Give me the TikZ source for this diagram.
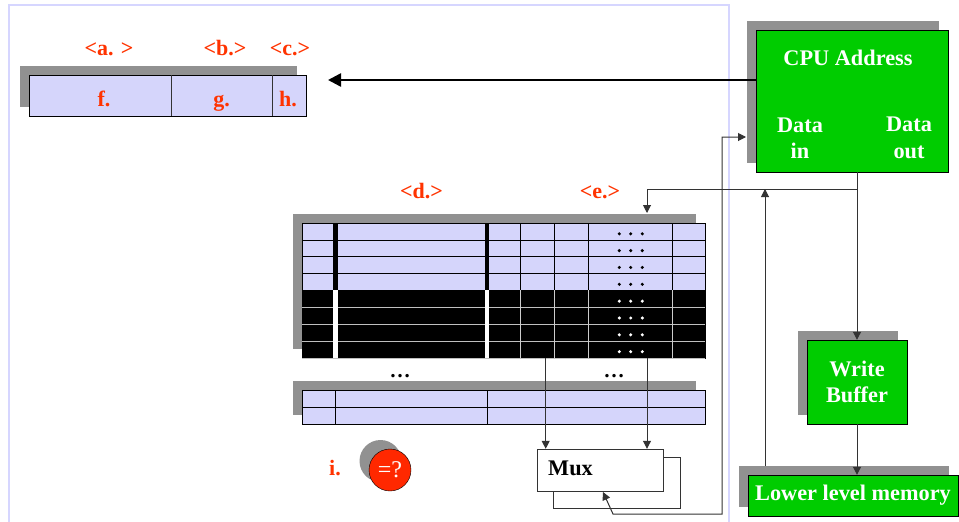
\documentclass[tikz,border=0pt]{standalone}
\usepackage{fontspec}
\setmainfont{Liberation Serif}
\usetikzlibrary{arrows.meta,shadows}

\definecolor{lav}{RGB}{213,213,251}
\definecolor{lavframe}{RGB}{214,214,255}
\definecolor{shadowgray}{RGB}{145,145,145}
\definecolor{cpugreen}{RGB}{0,204,0}
\definecolor{redtxt}{RGB}{255,51,0}
\definecolor{cmpred}{RGB}{255,40,0}

\begin{document}
\begin{tikzpicture}[x=1pt, y=-1pt,
  shadowed/.style={drop shadow={shadow xshift=-9.5pt, shadow yshift=9pt, fill=shadowgray, opacity=1}},
  greenbox/.style={shadowed, draw=black, fill=cpugreen, inner sep=0pt, text=white, align=center,
    font=\bfseries\fontsize{22.3}{26.5}\selectfont},
  lavbox/.style={shadowed, draw=black, fill=lav, inner sep=0pt},
  whitetxt/.style={text=white, align=center, inner sep=0pt, font=\bfseries\fontsize{22.3}{26.5}\selectfont},
  redlbl/.style={text=redtxt, inner sep=0pt, anchor=base, font=\bfseries\fontsize{22}{26}\selectfont},
  conn/.style={-{Triangle[length=8pt,width=8pt]}, line width=1pt, draw=black!80},
]
\useasboundingbox (0,0) rectangle (959,522);

% Frame of the cache side
\draw[lavframe, line width=2pt] (9,524) -- (9,5) -- (729,5) -- (729,524);

% Address
\node[lavbox, minimum width=277pt, minimum height=41pt] (addr) at (167.5,95.5) {};
\draw[black!80] (171,75) -- (171,116);
\draw[black!80] (272,75) -- (272,116);
\node[redlbl] (la) at (109,55) {<a. >};
\node[redlbl] (lb) at (225,55) {<b.>};
\node[redlbl] (lc) at (290,55) {<c.>};
\node[redlbl] (lf) at (104,106.5) {f.};
\node[redlbl] (lg) at (221.5,106.5) {g.};
\node[redlbl] (lh) at (288,106.5) {h.};

% CPU
\node[greenbox, minimum width=192pt, minimum height=142pt] (cpu) at (852,101) {};
\node[whitetxt, anchor=base] (cpuaddr) at (848,65) {CPU Address};
\node[whitetxt] (datain) at (800,138) {Data\\in};
\node[whitetxt] (dataout) at (909,138) {Data\\out};

% Write buffer and memory
\node[greenbox, minimum width=100pt, minimum height=84pt] (wbuf) at (857,382) {Write\\Buffer};
\node[greenbox, minimum width=210pt, minimum height=41pt] (lowmem) at (853,495.5) {Lower level memory};

% Cache
\def\cL{302}
\def\cR{705}
\def\cT{223}
\def\rh{16.84}
\node[lavbox, minimum width=403pt, minimum height=134.7pt] (cache) at (503.5,290.35) {};
\fill[black] (\cL,\cT+4*\rh) rectangle (\cR,\cT+8*\rh);
\foreach \i in {1,2,3}
  \draw[black] (\cL,\cT+\i*\rh) -- (\cR,\cT+\i*\rh);
\foreach \i in {5,6,7,8}
  \draw[black!25] (\cL,\cT+\i*\rh) -- (\cR,\cT+\i*\rh);
\foreach \x in {520.3,554,587.7,671.7} {
  \draw[black] (\x,\cT) -- (\x,\cT+4*\rh);
  \draw[black!20] (\x,\cT+4*\rh) -- (\x,\cT+8*\rh);
}
\foreach \x in {335.5,486.7} {
  \draw[black, line width=4.4pt] (\x,\cT) -- (\x,\cT+4*\rh);
  \draw[white, line width=4.4pt] (\x,\cT+4*\rh) -- (\x,\cT+8*\rh);
}
\foreach \i/\c in {0/black,1/black,2/black,3/black,4/white,5/white,6/white,7/white}
  \foreach \dx in {619.3,630.7,642.3}
    \fill[\c] (\dx,\cT+\i*\rh+10.8) circle (1.7);
\node[redlbl] (ld) at (421.5,198) {<d.>};
\node[redlbl] (le) at (600,198) {<e.>};
\node[anchor=base, inner sep=0pt, font=\bfseries\fontsize{21}{26}\selectfont] (skipa) at (400,377) {…};
\node[anchor=base, inner sep=0pt, font=\bfseries\fontsize{21}{26}\selectfont] (skipb) at (614,377) {…};
\node[lavbox, minimum width=403pt, minimum height=34pt] (cachelast) at (503.5,407) {};
\draw[black] (\cL,407) -- (\cR,407);
\draw[black] (335,390) -- (335,424);
\draw[black] (487,390) -- (487,424);

% Compare and Mux
\node[redlbl] (li) at (335,475) {i.};
\node[shadowed, circle, draw=black, fill=cmpred, text=white, minimum size=42pt, inner sep=0pt,
  font=\fontsize{24}{26}\selectfont] (cmp) at (390,470) {=?};
\node[draw=black!80, fill=white, minimum width=127pt, minimum height=51pt, inner sep=0pt] (muxback) at (616.5,482.5) {};
\node[draw=black!80, fill=white, minimum width=126pt, minimum height=42pt, inner sep=0pt] (mux) at (600,470) {};
\node[anchor=base west, inner sep=0pt, font=\bfseries\fontsize{22.3}{26}\selectfont] (muxtxt) at (548,475) {Mux};

% Connectors
\coordinate (addrin) at (328,80);
\draw[-{Triangle[length=13pt,width=13pt]}, line width=2.5pt] (cpu.west |- addrin) -- (addrin);
\coordinate (fork) at (857,189);
\coordinate (cachein) at (647,213);
\draw[conn] (cpu.south -| wbuf.north) -- (wbuf.north);
\draw[conn] (fork) -| (cachein);
\coordinate (memup) at (765,466);
\draw[conn] (memup) -- (memup |- fork);
\draw[conn] (wbuf.south) -- (wbuf.south |- lowmem.north);
\coordinate (tagout) at (545.7,357.7);
\coordinate (wordout) at (647,357.7);
\draw[conn] (tagout) -- (tagout |- mux.north);
\draw[conn] (wordout) -- (wordout |- mux.north);
\coordinate (muxin) at (603,492);
\coordinate (muxtail) at (613,514);
\coordinate (bend) at (722,514);
\coordinate (cpuin) at (746,137);
\draw[conn, {Triangle[length=8pt,width=8pt]}-{Triangle[length=8pt,width=8pt]}] (muxin) -- (muxtail) -- (bend) |- (cpuin);

\end{tikzpicture}
\end{document}
